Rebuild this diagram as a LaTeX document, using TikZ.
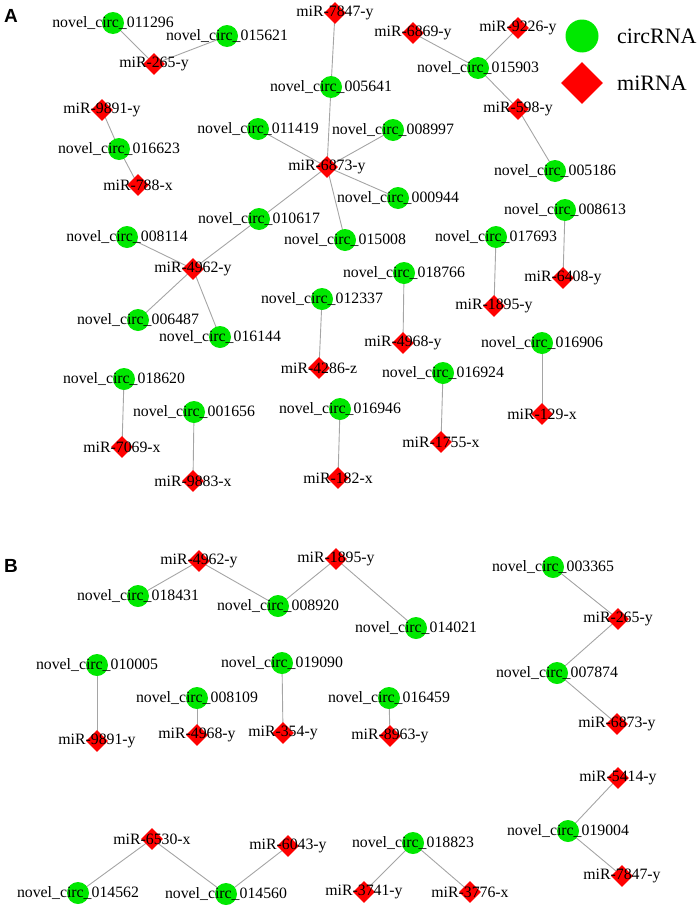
\documentclass[tikz,border=0pt]{standalone}
\usepackage{fontspec}
\setmainfont{Liberation Serif}
\newfontfamily\headfont{Liberation Sans}
\usetikzlibrary{shapes.geometric}
\pgfdeclarelayer{background}
\pgfsetlayers{background,main}
\definecolor{cgreen}{RGB}{0,232,0}
\definecolor{mred}{RGB}{255,0,0}
\definecolor{edgegray}{RGB}{165,165,165}
\newcommand\cnode[3]{\node[circ,label={center:novel\_circ\_#3}] (#1) at (#2) {};}
\newcommand\mnode[3]{\node[mir,label={center:miR-#3}] (#1) at (#2) {};}
\begin{document}
\begin{tikzpicture}[x=1pt,y=-1pt,
  circ/.style={circle, fill=cgreen, inner sep=0pt, minimum size=22pt},
  mir/.style={diamond, fill=mred, inner sep=0pt, minimum size=22pt},
  every label/.style={font=\fontsize{15.8}{18}\selectfont, text=black, inner sep=0pt},
  link/.style={draw=edgegray, line width=0.9pt},
  panel/.style={font=\headfont\bfseries\fontsize{19}{22}\selectfont, inner sep=0pt},
  legtext/.style={anchor=west, font=\fontsize{22}{26}\selectfont, inner sep=0pt}
]
\useasboundingbox (0,0) rectangle (699,910);

\node[panel] (pA) at (11,16) {A};
\node[panel] (pB) at (11,566) {B};

% legend
\node[circ, minimum size=33pt] (legc) at (582,36) {};
\node[mir, minimum size=42pt] (legm) at (582,83) {};
\node[legtext] (legct) at (617,36) {circRNA};
\node[legtext] (legmt) at (617,83) {miRNA};

% ---------- panel A ----------
\cnode{a011296}{113,23}{011296}
\cnode{a015621}{227,36}{015621}
\mnode{a265}{154,64}{265-y}
\mnode{a9891}{102,110}{9891-y}
\cnode{a016623}{119,149}{016623}
\mnode{a788}{138,185}{788-x}
\mnode{a7847}{335,13}{7847-y}
\cnode{a005641}{331,87}{005641}
\cnode{a011419}{258,129}{011419}
\cnode{a008997}{393,130}{008997}
\mnode{a6873}{327,167}{6873-y}
\cnode{a000944}{398,198}{000944}
\cnode{a010617}{259,219}{010617}
\cnode{a015008}{345,240}{015008}
\mnode{a6869}{413,33}{6869-y}
\mnode{a9226}{518,28}{9226-y}
\cnode{a015903}{478,68}{015903}
\mnode{a598}{518,109}{598-y}
\cnode{a005186}{555,171}{005186}
\cnode{a008114}{127,237}{008114}
\mnode{a4962}{193,269}{4962-y}
\cnode{a006487}{138,320}{006487}
\cnode{a016144}{220,337}{016144}
\cnode{a012337}{322,299}{012337}
\mnode{a4286}{319,368}{4286-z}
\cnode{a008613}{565,210}{008613}
\mnode{a6408}{563,278}{6408-y}
\cnode{a017693}{496,237}{017693}
\mnode{a1895}{494,306}{1895-y}
\cnode{a018766}{404,273}{018766}
\mnode{a4968}{403,343}{4968-y}
\cnode{a016906}{542,343}{016906}
\mnode{a129}{542,414}{129-x}
\cnode{a016924}{443,373}{016924}
\mnode{a1755}{441,442}{1755-x}
\cnode{a018620}{124,379}{018620}
\mnode{a7069}{122,447}{7069-x}
\cnode{a001656}{194,412}{001656}
\mnode{a9883}{193,481}{9883-x}
\cnode{a016946}{340,409}{016946}
\mnode{a182}{338,478}{182-x}

% ---------- panel B ----------
\mnode{b4962}{199,561}{4962-y}
\cnode{b018431}{138,596}{018431}
\cnode{b008920}{278,606}{008920}
\mnode{b1895}{336,559}{1895-y}
\cnode{b014021}{416,628}{014021}
\cnode{b003365}{553,567}{003365}
\mnode{b265}{618,619}{265-y}
\cnode{b007874}{557,673}{007874}
\mnode{b6873}{617,724}{6873-y}
\cnode{b010005}{97,665}{010005}
\mnode{b9891}{97,741}{9891-y}
\cnode{b019090}{282,663}{019090}
\mnode{b354}{283,733}{354-y}
\cnode{b008109}{197,698}{008109}
\mnode{b4968}{197,735}{4968-y}
\cnode{b016459}{389,698}{016459}
\mnode{b8963}{390,736}{8963-y}
\mnode{b5414}{618,778}{5414-y}
\cnode{b019004}{568,831}{019004}
\mnode{b7847}{622,876}{7847-y}
\mnode{b6530}{152,839}{6530-x}
\mnode{b6043}{288,846}{6043-y}
\cnode{b014562}{78,893}{014562}
\cnode{b014560}{226,894}{014560}
\cnode{b018823}{413,843}{018823}
\mnode{b3741}{364,892}{3741-y}
\mnode{b3776}{470,892}{3776-x}

\begin{pgfonlayer}{background}
% panel A edges
\draw[link] (a011296.center) -- (a265.center);
\draw[link] (a015621.center) -- (a265.center);
\draw[link] (a9891.center) -- (a016623.center);
\draw[link] (a016623.center) -- (a788.center);
\draw[link] (a7847.center) -- (a005641.center);
\draw[link] (a005641.center) -- (a6873.center);
\draw[link] (a6873.center) -- (a011419.center);
\draw[link] (a6873.center) -- (a008997.center);
\draw[link] (a6873.center) -- (a000944.center);
\draw[link] (a6873.center) -- (a015008.center);
\draw[link] (a6873.center) -- (a010617.center);
\draw[link] (a010617.center) -- (a4962.center);
\draw[link] (a4962.center) -- (a008114.center);
\draw[link] (a4962.center) -- (a006487.center);
\draw[link] (a4962.center) -- (a016144.center);
\draw[link] (a6869.center) -- (a015903.center);
\draw[link] (a9226.center) -- (a015903.center);
\draw[link] (a015903.center) -- (a598.center);
\draw[link] (a598.center) -- (a005186.center);
\draw[link] (a008613.center) -- (a6408.center);
\draw[link] (a017693.center) -- (a1895.center);
\draw[link] (a018766.center) -- (a4968.center);
\draw[link] (a012337.center) -- (a4286.center);
\draw[link] (a016906.center) -- (a129.center);
\draw[link] (a016924.center) -- (a1755.center);
\draw[link] (a018620.center) -- (a7069.center);
\draw[link] (a001656.center) -- (a9883.center);
\draw[link] (a016946.center) -- (a182.center);
% panel B edges
\draw[link] (b4962.center) -- (b018431.center);
\draw[link] (b4962.center) -- (b008920.center);
\draw[link] (b1895.center) -- (b008920.center);
\draw[link] (b1895.center) -- (b014021.center);
\draw[link] (b003365.center) -- (b265.center);
\draw[link] (b265.center) -- (b007874.center);
\draw[link] (b007874.center) -- (b6873.center);
\draw[link] (b010005.center) -- (b9891.center);
\draw[link] (b019090.center) -- (b354.center);
\draw[link] (b008109.center) -- (b4968.center);
\draw[link] (b016459.center) -- (b8963.center);
\draw[link] (b5414.center) -- (b019004.center);
\draw[link] (b019004.center) -- (b7847.center);
\draw[link] (b6530.center) -- (b014562.center);
\draw[link] (b6530.center) -- (b014560.center);
\draw[link] (b6043.center) -- (b014560.center);
\draw[link] (b018823.center) -- (b3741.center);
\draw[link] (b018823.center) -- (b3776.center);
\end{pgfonlayer}
\end{tikzpicture}
\end{document}
